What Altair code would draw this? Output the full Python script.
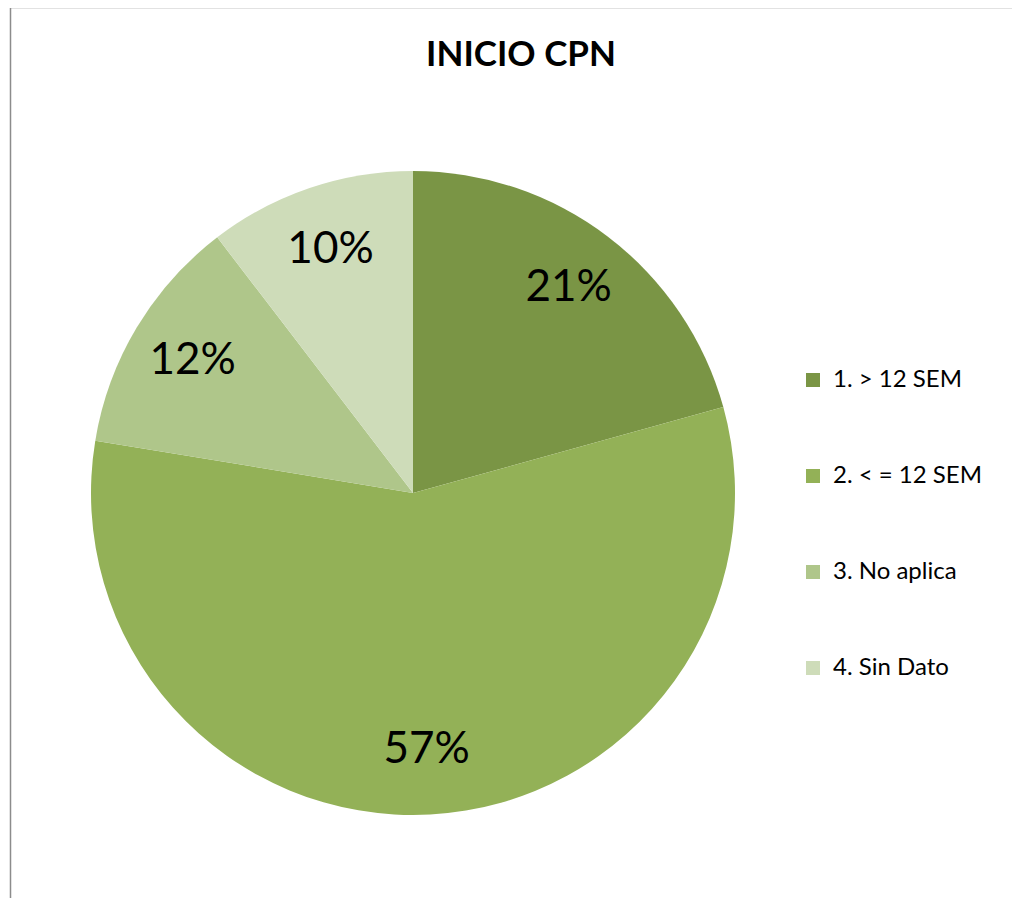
import altair as alt
import pandas as pd

title = "INICIO CPN"
categories = ["1. > 12 SEM", "2. < = 12 SEM", "3. No aplica", "4. Sin Dato"]
values = [20.7, 56.9, 12.0, 10.4]
labels = ["21%", "57%", "12%", "10%"]
colors = ["#7A9545", "#93B157", "#AFC68A", "#CEDCB9"]

df = pd.DataFrame({"cat": categories, "val": values, "lab": labels,
                   "order": list(range(len(categories)))})

CX, CY, R = 405, 485, 322

base = alt.Chart(df).encode(
    theta=alt.Theta("val:Q", stack=True),
    order=alt.Order("order:Q"),
)

pie = base.mark_arc(radius=R, stroke=None).encode(
    x=alt.value(CX), y=alt.value(CY),
    color=alt.Color("cat:N", scale=alt.Scale(domain=categories, range=colors),
                    sort=categories,
                    legend=alt.Legend(title=None, orient="none", legendX=793, legendY=360,
                                      symbolType="square", symbolSize=196,
                                      symbolStrokeWidth=0, labelFontSize=24,
                                      labelFont="Lato", labelColor="#000000",
                                      rowPadding=72, labelLimit=300, labelOffset=8)),
)

text = base.mark_text(radius=257, fontSize=44, font="Lato", color="#000000").encode(
    x=alt.value(CX), y=alt.value(CY), text="lab:N"
)

title_df = pd.DataFrame({"t": [title]})
title_mark = alt.Chart(title_df).mark_text(fontSize=35, fontWeight="bold", font="Lato",
                                           color="#000000", baseline="middle").encode(
    text="t:N", x=alt.value(513), y=alt.value(47)
)

border_df = pd.DataFrame({"k": [0]})
left_line = alt.Chart(border_df).mark_rule(color="#8c8c8c", strokeWidth=1.5).encode(
    x=alt.value(2.5), y=alt.value(-1), y2=alt.value(900))
top_line = alt.Chart(border_df).mark_rule(color="#8c8c8c", strokeWidth=1.5).encode(
    y=alt.value(-0.5), x=alt.value(2), x2=alt.value(1020))

chart = alt.layer(left_line, top_line, pie, text, title_mark).properties(
    width=1004, height=892,
    autosize=alt.AutoSizeParams(type="none"),
    padding=0,
).configure_view(stroke=None)

chart.save("out.html", embed_options={"renderer": "svg", "actions": False})
